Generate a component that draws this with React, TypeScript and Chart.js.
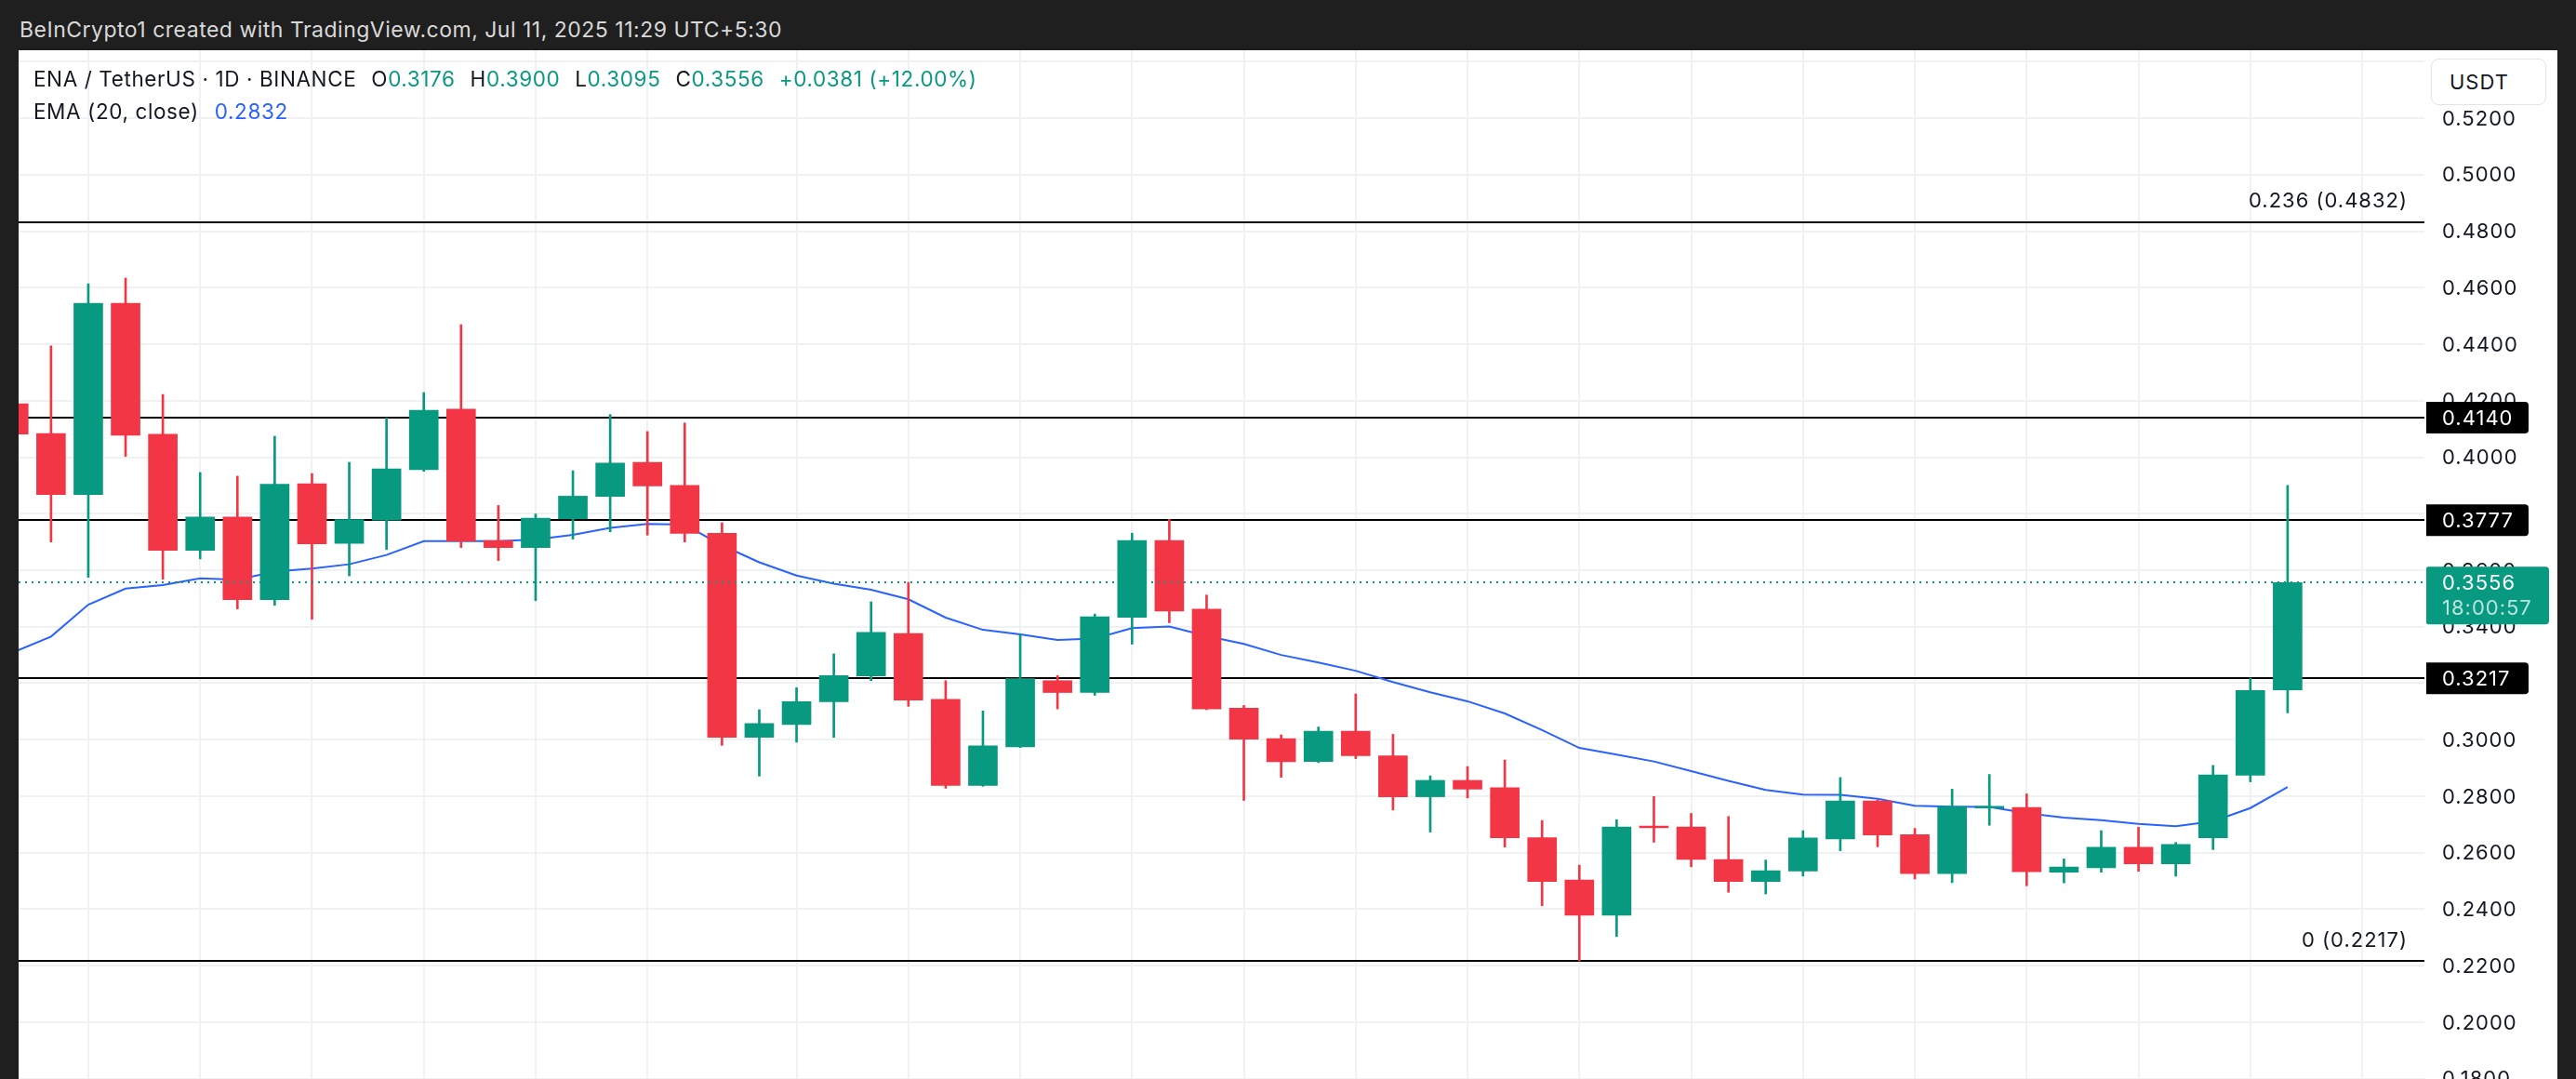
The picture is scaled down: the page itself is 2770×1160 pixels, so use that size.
import React, { useEffect, useRef } from 'react';
import { Chart, registerables } from 'chart.js';

Chart.register(...registerables);

// ---- Data (daily candles, ENA/USDT) ----
const opens = [
  0.4189, 0.4084, 0.3868, 0.4545, 0.4081, 0.3670, 0.3788, 0.3496, 0.3906, 0.3695,
  0.3777, 0.3956, 0.4170, 0.3705, 0.3680, 0.3782, 0.3861, 0.3982, 0.3900, 0.3731,
  0.3008, 0.3054, 0.3134, 0.3226, 0.3376, 0.3143, 0.2838, 0.2975, 0.3209, 0.3167,
  0.3433, 0.3705, 0.3462, 0.3112, 0.3004, 0.2923, 0.3030, 0.2943, 0.2798, 0.2856,
  0.2830, 0.2653, 0.2503, 0.2379, 0.2693, 0.2691, 0.2576, 0.2498, 0.2535, 0.2649,
  0.2783, 0.2664, 0.2526, 0.2758, 0.2760, 0.2531, 0.2547, 0.2619, 0.2561, 0.2653,
  0.2874, 0.3176,
];
const highs = [
  0.4210, 0.4394, 0.4614, 0.4634, 0.4222, 0.3946, 0.3933, 0.4074, 0.3942, 0.3982,
  0.4139, 0.4229, 0.4469, 0.3829, 0.3799, 0.3952, 0.4151, 0.4091, 0.4121, 0.3768,
  0.3106, 0.3184, 0.3304, 0.3488, 0.3557, 0.3209, 0.3102, 0.3373, 0.3227, 0.3445,
  0.3731, 0.3780, 0.3512, 0.3121, 0.3017, 0.3045, 0.3162, 0.3019, 0.2872, 0.2905,
  0.2928, 0.2714, 0.2556, 0.2717, 0.2799, 0.2739, 0.2728, 0.2574, 0.2678, 0.2866,
  0.2787, 0.2686, 0.2825, 0.2877, 0.2808, 0.2578, 0.2678, 0.2690, 0.2636, 0.2909,
  0.3218, 0.3900,
];
const lows = [
  0.4050, 0.3700, 0.3575, 0.4003, 0.3568, 0.3640, 0.3463, 0.3476, 0.3426, 0.3580,
  0.3673, 0.3950, 0.3680, 0.3634, 0.3492, 0.3710, 0.3736, 0.3724, 0.3700, 0.2980,
  0.2871, 0.2991, 0.3008, 0.3209, 0.3118, 0.2828, 0.2835, 0.2972, 0.3109, 0.3157,
  0.3338, 0.3414, 0.3106, 0.2785, 0.2867, 0.2919, 0.2933, 0.2751, 0.2673, 0.2794,
  0.2620, 0.2412, 0.2217, 0.2303, 0.2637, 0.2550, 0.2460, 0.2454, 0.2517, 0.2607,
  0.2621, 0.2507, 0.2494, 0.2697, 0.2483, 0.2493, 0.2531, 0.2534, 0.2517, 0.2611,
  0.2851, 0.3095,
];
const closes = [
  0.4082, 0.3868, 0.4545, 0.4078, 0.3670, 0.3788, 0.3496, 0.3904, 0.3693, 0.3779,
  0.3959, 0.4166, 0.3703, 0.3680, 0.3784, 0.3862, 0.3979, 0.3898, 0.3730, 0.3008,
  0.3057, 0.3135, 0.3227, 0.3380, 0.3140, 0.2838, 0.2978, 0.3216, 0.3167, 0.3435,
  0.3705, 0.3455, 0.3109, 0.3002, 0.2922, 0.3030, 0.2943, 0.2798, 0.2856, 0.2825,
  0.2653, 0.2498, 0.2379, 0.2691, 0.2688, 0.2576, 0.2498, 0.2536, 0.2652, 0.2783,
  0.2663, 0.2526, 0.2763, 0.2763, 0.2533, 0.2549, 0.2619, 0.2561, 0.2629, 0.2875,
  0.3174, 0.3556,
];
const ema20 = [
  0.3310, 0.3365, 0.3478, 0.3535, 0.3547, 0.3571, 0.3566, 0.3595, 0.3606, 0.3621,
  0.3654, 0.3703, 0.3703, 0.3703, 0.3709, 0.3725, 0.3750, 0.3764, 0.3761, 0.3688,
  0.3628, 0.3581, 0.3552, 0.3531, 0.3497, 0.3432, 0.3389, 0.3373, 0.3353, 0.3358,
  0.3395, 0.3401, 0.3367, 0.3339, 0.3300, 0.3273, 0.3244, 0.3204, 0.3168, 0.3136,
  0.3093, 0.3034, 0.2971, 0.2947, 0.2923, 0.2889, 0.2854, 0.2822, 0.2806, 0.2805,
  0.2791, 0.2766, 0.2763, 0.2762, 0.2740, 0.2724, 0.2715, 0.2702, 0.2694, 0.2711,
  0.2758, 0.2832,
];
// vertical time-grid positions (candle index of time-axis marks)
const timeGridIdx = [2, 5, 8, 11, 14, 17, 21, 24, 27, 30, 33, 36, 39, 42, 45, 48, 51, 54, 57, 60, 63];
// price axis ticks
const priceTicks = [0.18, 0.20, 0.22, 0.24, 0.26, 0.28, 0.30, 0.32, 0.34, 0.36, 0.38, 0.40, 0.42, 0.44, 0.46, 0.48, 0.50, 0.52, 0.54];
const hiddenTickLabels = [0.54];
// horizontal levels
const levelLines = [0.4832, 0.4140, 0.3777, 0.3217, 0.2217];
const boxedLevels = [0.4140, 0.3777, 0.3217];
const fibLevels = [0.4832, 0.2217];
const fibTexts = ['0.236 (0.4832)', '0 (0.2217)'];
const lastPrice = 0.3556;
const countdown = '18:00:57';

const UP = '#089981';
const DOWN = '#f23645';
const EMA_COLOR = '#2962ff';
const TEXT = '#131722';
const FONT = 'Inter, "Noto Sans", sans-serif';

const CANVAS_W = 2730;
const CANVAS_H = 1106;

export default function App() {
  const ref = useRef<HTMLCanvasElement | null>(null);

  useEffect(() => {
    const canvas = ref.current;
    if (!canvas) return;
    const idx = opens.map((_, i) => i);
    const colors = idx.map((i) => (closes[i] >= opens[i] ? UP : DOWN));

    const overlay = {
      id: 'tvOverlay',
      beforeDatasetsDraw(chart: any) {
        const { ctx, chartArea: a, scales } = chart;
        const y = scales.y;
        ctx.save();
        ctx.beginPath();
        ctx.rect(a.left, a.top, a.right - a.left, a.bottom - a.top);
        ctx.clip();
        ctx.strokeStyle = '#000';
        ctx.lineWidth = 2;
        for (const v of levelLines) {
          const yy = Math.round(y.getPixelForValue(v));
          ctx.beginPath();
          ctx.moveTo(a.left, yy);
          ctx.lineTo(a.right, yy);
          ctx.stroke();
        }
        ctx.restore();
      },
      afterDatasetsDraw(chart: any) {
        const { ctx, chartArea: a, scales } = chart;
        const y = scales.y;
        ctx.save();
        ctx.strokeStyle = UP;
        ctx.lineWidth = 2;
        ctx.setLineDash([2, 5]);
        const py = Math.round(y.getPixelForValue(lastPrice));
        ctx.beginPath();
        ctx.moveTo(a.left, py);
        ctx.lineTo(a.right, py);
        ctx.stroke();
        ctx.restore();
      },
      afterDraw(chart: any) {
        const { ctx, chartArea: a, scales } = chart;
        const y = scales.y;
        ctx.save();
        // fib labels
        ctx.font = `22px ${FONT}`;
        (ctx as any).letterSpacing = '1px';
        ctx.fillStyle = TEXT;
        ctx.textAlign = 'right';
        ctx.textBaseline = 'middle';
        fibLevels.forEach((v, i) => {
          ctx.fillText(fibTexts[i], a.right - 18, y.getPixelForValue(v) - 22);
        });
        // price axis labels
        ctx.textAlign = 'left';
        const lx = a.right + 19;
        for (const v of priceTicks) {
          if (hiddenTickLabels.includes(v)) continue;
          ctx.fillText(v.toFixed(4), lx, y.getPixelForValue(v) + 1);
        }
        // boxed levels
        for (const v of boxedLevels) {
          const yy = y.getPixelForValue(v);
          ctx.fillStyle = '#000';
          ctx.beginPath();
          (ctx as any).roundRect(a.right + 2, yy - 17, 110, 34, [0, 4, 4, 0]);
          ctx.fill();
          ctx.fillStyle = '#fff';
          ctx.fillText(v.toFixed(4), lx, yy + 1);
        }
        // last price box
        const py = y.getPixelForValue(lastPrice);
        ctx.fillStyle = UP;
        ctx.beginPath();
        (ctx as any).roundRect(a.right + 2, py - 17, 132, 62, [2, 4, 4, 2]);
        ctx.fill();
        ctx.fillStyle = '#fff';
        ctx.fillText(lastPrice.toFixed(4), lx, py + 1);
        ctx.fillStyle = 'rgba(255,255,255,0.72)';
        ctx.fillText(countdown, lx, py + 28);
        ctx.restore();
      },
    };

    const chart = new Chart(canvas, {
      type: 'bar',
      data: {
        datasets: [
          {
            type: 'bar',
            label: 'body',
            data: idx.map((i) => ({ x: i, y: [Math.min(opens[i], closes[i]), Math.max(opens[i], closes[i])] })) as any,
            backgroundColor: colors,
            borderWidth: 0,
            barThickness: 31,
            minBarLength: 2,
            grouped: false,
            order: 1,
          } as any,
          {
            type: 'bar',
            label: 'wick',
            data: idx.map((i) => ({ x: i, y: [lows[i], highs[i]] })) as any,
            backgroundColor: colors,
            borderWidth: 0,
            barThickness: 2,
            grouped: false,
            order: 2,
          } as any,
          {
            type: 'line',
            label: 'EMA (20, close)',
            data: idx.map((i) => ({ x: i, y: ema20[i] })) as any,
            borderColor: EMA_COLOR,
            borderWidth: 2,
            pointRadius: 0,
            tension: 0,
            order: 3,
          } as any,
        ],
      },
      options: {
        responsive: false,
        animation: false,
        devicePixelRatio: 1,
        layout: { padding: 0 },
        plugins: { legend: { display: false }, tooltip: { enabled: false } },
        scales: {
          x: {
            type: 'linear',
            position: 'bottom',
            min: 0.13,
            max: 64.67,
            offset: false,
            afterBuildTicks: (s: any) => {
              s.ticks = timeGridIdx.map((v) => ({ value: v }));
            },
            afterFit: (s: any) => {
              s.height = 0;
            },
            ticks: { display: false },
            grid: { color: '#f0f1f3', lineWidth: 2, drawTicks: false, offset: false },
            border: { display: false },
          },
          y: {
            type: 'linear',
            position: 'right',
            min: 0.17989,
            max: 0.54406,
            afterBuildTicks: (s: any) => {
              s.ticks = priceTicks.map((v) => ({ value: v }));
            },
            afterFit: (s: any) => {
              s.width = 143;
            },
            ticks: { display: false },
            grid: { color: '#f0f1f3', lineWidth: 2, drawTicks: false },
            border: { display: false },
          },
        },
      } as any,
      plugins: [overlay],
    });
    return () => chart.destroy();
  }, []);

  const green = { color: UP };
  const gap = { marginLeft: 16 };

  return (
    <div
      style={{
        position: 'absolute',
        left: 0,
        top: 0,
        width: 2770,
        height: 1160,
        background: '#1f1f1f',
        overflow: 'hidden',
        fontFamily: FONT,
      }}
    >
      <div
        style={{
          position: 'absolute',
          left: 21,
          top: 17,
          lineHeight: '30px',
          fontSize: 23,
          letterSpacing: 0.5,
          color: '#d9d9d9',
          whiteSpace: 'nowrap',
        }}
      >
        BeInCrypto1 created with TradingView.com, Jul 11, 2025 11:29 UTC+5:30
      </div>
      <div
        style={{
          position: 'absolute',
          left: 20,
          top: 54,
          width: CANVAS_W,
          height: CANVAS_H,
          background: '#ffffff',
        }}
      >
        <canvas ref={ref} width={CANVAS_W} height={CANVAS_H} style={{ display: 'block', width: CANVAS_W, height: CANVAS_H }} />
        <div
          style={{
            position: 'absolute',
            left: 16,
            top: 16,
            lineHeight: '30px',
            fontSize: 22.5,
            letterSpacing: 0.6,
            color: TEXT,
            whiteSpace: 'nowrap',
          }}
        >
          <span>ENA / TetherUS · 1D · BINANCE</span>
          <span style={gap}>O<span style={green}>0.3176</span></span>
          <span style={gap}>H<span style={green}>0.3900</span></span>
          <span style={gap}>L<span style={green}>0.3095</span></span>
          <span style={gap}>C<span style={green}>0.3556</span></span>
          <span style={{ ...gap, ...green }}>+0.0381 (+12.00%)</span>
        </div>
        <div
          style={{
            position: 'absolute',
            left: 16,
            top: 51,
            lineHeight: '30px',
            fontSize: 22.5,
            letterSpacing: 0.6,
            color: TEXT,
            whiteSpace: 'nowrap',
          }}
        >
          <span>EMA (20, close)</span>
          <span style={{ marginLeft: 17, color: EMA_COLOR }}>0.2832</span>
        </div>
        <div
          style={{
            position: 'absolute',
            left: 2594,
            top: 9,
            width: 124,
            height: 50,
            boxSizing: 'border-box',
            border: '1px solid #e0e3eb',
            borderRadius: 8,
            background: '#fff',
            fontSize: 22,
            lineHeight: '48px',
            color: TEXT,
            paddingLeft: 19,
            letterSpacing: 1,
          }}
        >
          USDT
        </div>
      </div>
    </div>
  );
}
